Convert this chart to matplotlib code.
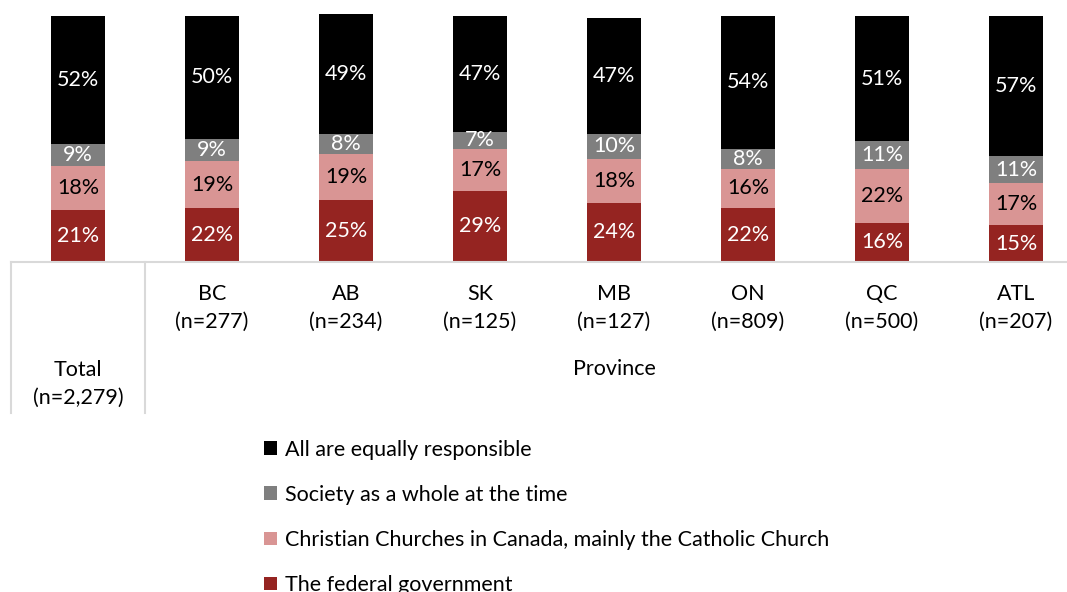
import matplotlib
matplotlib.use("Agg")
import matplotlib.pyplot as plt
import numpy as np

plt.rcParams['font.family'] = ['Lato', 'DejaVu Sans']

# data
categories = ["Total\n(n=2,279)", "BC\n(n=277)", "AB\n(n=234)", "SK\n(n=125)",
              "MB\n(n=127)", "ON\n(n=809)", "QC\n(n=500)", "ATL\n(n=207)"]
federal = [21, 22, 25, 29, 24, 22, 16, 15]
churches = [18, 19, 19, 17, 18, 16, 22, 17]
society = [9, 9, 8, 7, 10, 8, 11, 11]
all_equal = [52, 50, 49, 47, 47, 54, 51, 57]
series_names = ["The federal government",
                "Christian Churches in Canada, mainly the Catholic Church",
                "Society as a whole at the time",
                "All are equally responsible"]
group_label = "Province"

colors = ["#952421", "#d99594", "#7f7f7f", "#000000"]
text_colors = ["white", "black", "white", "white"]
FS = 15.5

W, H = 1067, 592
fig = plt.figure(figsize=(W / 100, H / 100), dpi=100)
# axes spans beyond right edge, like the cropped original
ax = fig.add_axes([11 / W, (H - 262) / H, 1072 / W, 262 / H])

x = np.arange(len(categories))
bottom = np.zeros(len(categories))
handles = []
for vals, col, tc, name in zip([federal, churches, society, all_equal],
                               colors, text_colors, series_names):
    vals = np.array(vals, dtype=float)
    b = ax.bar(x, vals, 0.40, bottom=bottom, color=col, label=name,
               edgecolor='none')
    handles.append(b)
    for xi, v, bo in zip(x, vals, bottom):
        ax.text(xi, bo + v / 2, f"{int(v)}%", ha='center', va='center',
                color=tc, fontsize=FS)
    bottom += vals

ax.set_xlim(-0.5, len(categories) - 0.5)
ax.set_ylim(0, 106.5)
ax.set_xticks([])
ax.set_yticks([])
for s in ['top', 'left', 'right']:
    ax.spines[s].set_visible(False)
ax.spines['bottom'].set_color('#d9d9d9')
ax.spines['bottom'].set_linewidth(1.5)

# multi-level category axis
tr = ax.get_xaxis_transform()
for xv in [-0.5, 0.5]:
    ax.plot([xv, xv], [0, -151 / 262], transform=tr, color='#d9d9d9',
            lw=1.5, clip_on=False)

for i, lab in enumerate(categories):
    ypos = -(384 - 262) / 262 if i == 0 else -(308 - 262) / 262
    ax.text(i, ypos, lab, transform=tr, ha='center', va='center',
            fontsize=FS, linespacing=1.45)
ax.text((1 + len(categories) - 1) / 2, -(369 - 262) / 262, group_label,
        transform=tr, ha='center', va='center', fontsize=FS)

fig.legend(handles[::-1], series_names[::-1], loc='upper left',
           bbox_to_anchor=(255 / W, 1 - 431 / H), frameon=False,
           fontsize=FS, handlelength=0.6, handleheight=0.6,
           handletextpad=0.4, labelspacing=1.17, borderaxespad=0)

fig.savefig("out.png", dpi=100)
